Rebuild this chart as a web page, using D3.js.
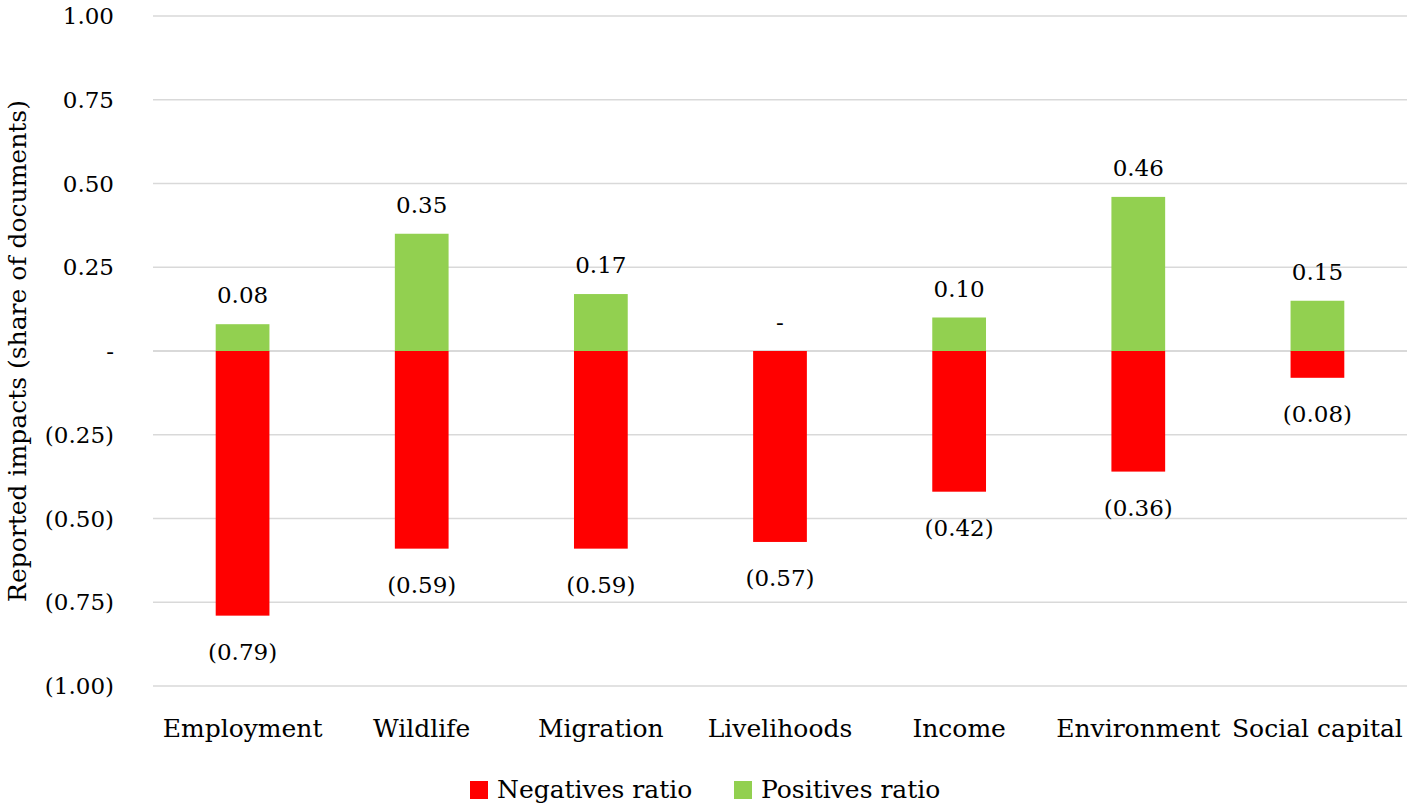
<!DOCTYPE html>
<html><head><meta charset="utf-8">
<script src="https://cdn.jsdelivr.net/npm/d3@7"></script>
<style>body{margin:0;background:#fff;}svg{display:block;}</style>
</head><body>
<svg id="c" width="1407" height="808"></svg>
<script>
const categories = ["Employment","Wildlife","Migration","Livelihoods","Income","Environment","Social capital"];
const negatives = [-0.79,-0.59,-0.59,-0.57,-0.42,-0.36,-0.08];
const positives = [0.08,0.35,0.17,0,0.10,0.46,0.15];
const yTicks = [1,0.75,0.5,0.25,0,-0.25,-0.5,-0.75,-1];
const seriesNames = ["Negatives ratio","Positives ratio"];
const colors = ["#FF0000","#92D050"];

(function(){
const FONT = "'DejaVu Serif', serif";
const FS = 23;     // numbers
const FSW = 25;    // words
const svg = d3.select("#c");
const mLeft = 153, mRight = 1407, mTop = 16, mBottom = 686;

const x = d3.scaleBand().domain(categories).range([mLeft, mRight]).paddingInner(0.7).paddingOuter(0.35);
const y = d3.scaleLinear().domain([-1, 1]).range([mBottom, mTop]);

const fmt = v => {
  if (Math.abs(v) < 1e-9) return "-";
  const s = Math.abs(v).toFixed(2);
  return v < 0 ? "(" + s + ")" : s;
};

svg.append("g").selectAll("line").data(yTicks).join("line")
  .attr("x1", mLeft).attr("x2", mRight)
  .attr("y1", d => y(d)).attr("y2", d => y(d))
  .attr("stroke", "#d9d9d9").attr("stroke-width", d => d === 0 ? 2 : 1.5);

svg.append("g").selectAll("text").data(yTicks).join("text")
  .attr("x", 114).attr("y", d => y(d)).attr("dy", "0.35em")
  .attr("text-anchor", "end").attr("font-family", FONT).attr("font-size", FS)
  .attr("fill", "#000").text(fmt);

svg.append("text").attr("transform", `translate(26,${(mTop+mBottom)/2}) rotate(-90)`)
  .attr("text-anchor", "middle").attr("font-family", FONT).attr("font-size", FSW)
  .text("Reported impacts (share of documents)");

const data = categories.map((c, i) => ({c, neg: negatives[i], pos: positives[i]}));

svg.append("g").selectAll("rect").data(data).join("rect")
  .attr("x", d => x(d.c)).attr("width", x.bandwidth())
  .attr("y", y(0)).attr("height", d => y(d.neg) - y(0))
  .attr("fill", colors[0]);
svg.append("g").selectAll("rect").data(data).join("rect")
  .attr("x", d => x(d.c)).attr("width", x.bandwidth())
  .attr("y", d => y(d.pos)).attr("height", d => y(0) - y(d.pos))
  .attr("fill", colors[1]);

svg.append("g").selectAll("text").data(data).join("text")
  .attr("x", d => x(d.c) + x.bandwidth()/2).attr("y", d => y(d.pos) - 21)
  .attr("text-anchor", "middle").attr("font-family", FONT).attr("font-size", FS)
  .text(d => fmt(d.pos));
svg.append("g").selectAll("text").data(data).join("text")
  .attr("x", d => x(d.c) + x.bandwidth()/2).attr("y", d => y(d.neg) + 44)
  .attr("text-anchor", "middle").attr("font-family", FONT).attr("font-size", FS)
  .text(d => fmt(d.neg));

svg.append("g").selectAll("text").data(categories).join("text")
  .attr("x", d => x(d) + x.bandwidth()/2).attr("y", 737)
  .attr("text-anchor", "middle").attr("font-family", FONT).attr("font-size", FSW)
  .text(d => d);

const legendX = [470, 734];
const lg = svg.append("g").selectAll("g").data(seriesNames).join("g")
  .attr("transform", (d, i) => `translate(${legendX[i]},781)`);
lg.append("rect").attr("width", 18).attr("height", 18).attr("fill", (d, i) => colors[i]);
lg.append("text").attr("x", 27).attr("y", 17).attr("font-family", FONT).attr("font-size", FSW).text(d => d);
})();
</script>
</body></html>
